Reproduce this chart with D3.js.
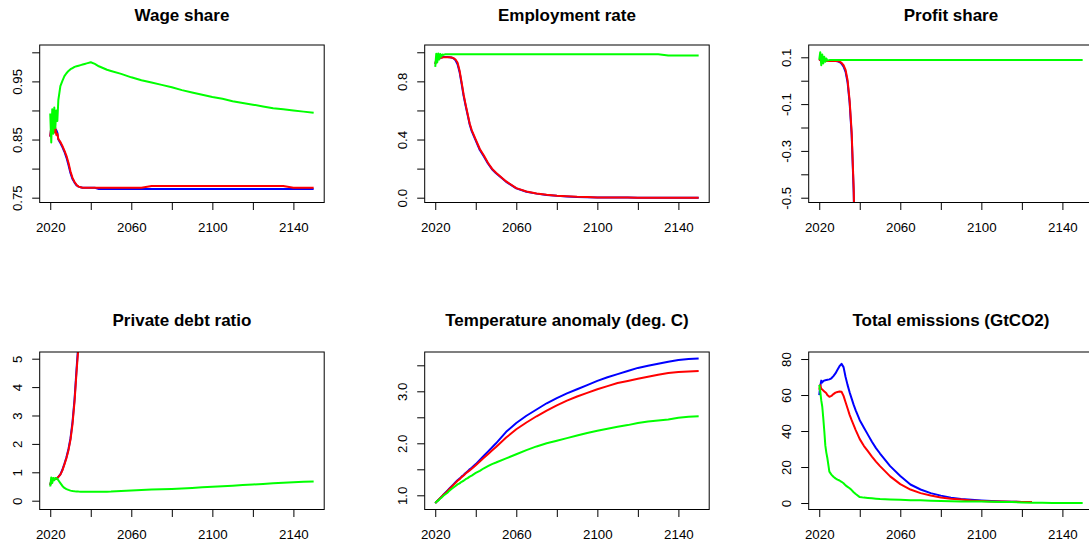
<!DOCTYPE html>
<html>
<head>
<meta charset="utf-8">
<script src="https://cdn.jsdelivr.net/npm/d3@7"></script>
<style>
  body { margin: 0; background: #fff; }
  svg text { font-family: "Liberation Sans", Arial, sans-serif; fill: #000; }
</style>
</head>
<body>
<svg id="chart" width="1089" height="546"></svg>
<script>
// shared time grid (years), denser at the start where the runs oscillate
const years = [2020, 2020.5, 2021, 2021.5, 2022, 2022.5, 2023, 2023.5, 2024,
  2025, 2026, 2027, 2028, 2029, 2030, 2031, 2032, 2033, 2034, 2035, 2036, 2037, 2038,
  2040, 2042, 2044, 2046, 2048, 2050,
  2055, 2060, 2065, 2070, 2075, 2080, 2085, 2090, 2095, 2100, 2105, 2110, 2115, 2120, 2125, 2130, 2135, 2140, 2145, 2150];

const xTicks = [2020, 2040, 2060, 2080, 2100, 2120, 2140];
const xTickLabels = ['2020', '', '2060', '', '2100', '', '2140'];

// Wage share
const wageBlue = [0.855, 0.870, 0.866, 0.874, 0.866, 0.868, 0.866, 0.862, 0.850,
  0.844, 0.837, 0.829, 0.819, 0.806, 0.792, 0.782, 0.776, 0.771, 0.769, 0.768, 0.767, 0.767, 0.767,
  0.767, 0.767, 0.765, 0.765, 0.765, 0.765,
  0.765, 0.765, 0.765, 0.765, 0.765, 0.765, 0.765, 0.765, 0.765, 0.765, 0.765, 0.765, 0.765, 0.765, 0.765, 0.765, 0.765, 0.765, 0.765, 0.765];
const wageRed = [0.855, 0.872, 0.865, 0.876, 0.862, 0.870, 0.858, 0.860, 0.851,
  0.846, 0.839, 0.831, 0.822, 0.810, 0.795, 0.784, 0.777, 0.772, 0.769, 0.768, 0.767, 0.767, 0.767,
  0.767, 0.767, 0.767, 0.767, 0.767, 0.767,
  0.767, 0.767, 0.767, 0.770, 0.770, 0.770, 0.770, 0.770, 0.770, 0.770, 0.770, 0.770, 0.770, 0.770, 0.770, 0.770, 0.770, 0.767, 0.767, 0.767];
const wageGreen = [0.895, 0.845, 0.902, 0.860, 0.905, 0.870, 0.900, 0.882, 0.918,
  0.942, 0.951, 0.959, 0.964, 0.968, 0.971, 0.973, 0.975, 0.976, 0.977, 0.978, 0.979, 0.980, 0.981,
  0.983, 0.980, 0.976, 0.973, 0.970, 0.968,
  0.963, 0.957, 0.952, 0.948, 0.944, 0.940, 0.935, 0.931, 0.927, 0.923, 0.920, 0.916, 0.913, 0.910, 0.907, 0.904, 0.902, 0.900, 0.898, 0.896];
const wageTicks = [0.75, 0.80, 0.85, 0.90, 0.95, 1.00];
const wageTickLabels = ['0.75', '', '0.85', '', '0.95', ''];

// Employment rate
const emplBlue = [0.920, 0.945, 0.952, 0.956, 0.960, 0.962, 0.964, 0.966, 0.967,
  0.967, 0.967, 0.966, 0.964, 0.958, 0.945, 0.918, 0.865, 0.785, 0.700, 0.632, 0.568, 0.503, 0.458,
  0.392, 0.328, 0.284, 0.235, 0.196, 0.168,
  0.109, 0.064, 0.041, 0.028, 0.019, 0.013, 0.009, 0.005, 0.003, 0.002, 0.001, 0.001, 0.001, 0, 0, 0, 0, 0, 0, 0];
const emplRed = [0.920, 0.950, 0.955, 0.958, 0.960, 0.962, 0.963, 0.964, 0.965,
  0.965, 0.965, 0.965, 0.964, 0.960, 0.950, 0.930, 0.875, 0.795, 0.710, 0.640, 0.575, 0.510, 0.465,
  0.400, 0.335, 0.290, 0.240, 0.200, 0.172,
  0.112, 0.066, 0.043, 0.029, 0.020, 0.014, 0.010, 0.006, 0.004, 0.002, 0.001, 0.001, 0.001, 0, 0, 0, 0, 0, 0, 0];
const emplGreen = [0.900, 0.990, 0.930, 0.992, 0.950, 0.988, 0.970, 0.985, 0.982,
  0.986, 0.986, 0.986, 0.986, 0.986, 0.986, 0.986, 0.986, 0.986, 0.986, 0.986, 0.986, 0.986, 0.986,
  0.986, 0.986, 0.986, 0.986, 0.986, 0.986,
  0.986, 0.986, 0.986, 0.986, 0.986, 0.986, 0.986, 0.986, 0.986, 0.986, 0.986, 0.986, 0.986, 0.986, 0.986, 0.986, 0.977, 0.977, 0.977, 0.977];
const emplTicks = [0, 0.2, 0.4, 0.6, 0.8, 1.0];
const emplTickLabels = ['0.0', '', '0.4', '', '0.8', ''];

// Profit share
const profitBlue = [0.086, 0.090, 0.082, 0.087, 0.083, 0.085, 0.084, 0.084, 0.084,
  0.084, 0.084, 0.084, 0.084, 0.083, 0.080, 0.073, 0.060, 0.038, -0.008, -0.095, -0.232, -0.475, -0.920,
  null, null, null, null, null, null,
  null, null, null, null, null, null, null, null, null, null, null, null, null, null, null, null, null, null, null, null];
const profitRed = [0.086, 0.092, 0.080, 0.088, 0.082, 0.086, 0.084, 0.085, 0.084,
  0.084, 0.084, 0.084, 0.084, 0.084, 0.082, 0.076, 0.066, 0.046, 0.002, -0.085, -0.220, -0.460, -0.900,
  null, null, null, null, null, null,
  null, null, null, null, null, null, null, null, null, null, null, null, null, null, null, null, null, null, null, null];
const profitGreen = [0.090, 0.122, 0.066, 0.112, 0.074, 0.102, 0.081, 0.095, 0.086,
  0.088, 0.088, 0.088, 0.088, 0.088, 0.088, 0.088, 0.088, 0.088, 0.088, 0.088, 0.088, 0.088, 0.088,
  0.088, 0.088, 0.088, 0.088, 0.088, 0.088,
  0.088, 0.088, 0.088, 0.088, 0.088, 0.088, 0.088, 0.088, 0.088, 0.088, 0.088, 0.088, 0.088, 0.088, 0.088, 0.088, 0.088, 0.088, 0.088, 0.088];
const profitTicks = [-0.5, -0.4, -0.3, -0.2, -0.1, 0, 0.1];
const profitTickLabels = ['-0.5', '', '-0.3', '', '-0.1', '', '0.1'];

// Private debt ratio
const debtBlue = [0.55, 0.70, 0.75, 0.78, 0.76, 0.77, 0.77, 0.80, 0.84,
  0.93, 1.09, 1.30, 1.53, 1.82, 2.20, 2.78, 3.58, 4.65, 5.65, 7.40, null, null, null,
  null, null, null, null, null, null,
  null, null, null, null, null, null, null, null, null, null, null, null, null, null, null, null, null, null, null, null];
const debtRed = [0.55, 0.70, 0.75, 0.78, 0.76, 0.77, 0.77, 0.80, 0.84,
  0.92, 1.07, 1.28, 1.50, 1.78, 2.15, 2.70, 3.50, 4.55, 5.50, 7.20, null, null, null,
  null, null, null, null, null, null,
  null, null, null, null, null, null, null, null, null, null, null, null, null, null, null, null, null, null, null, null];
const debtGreen = [0.50, 0.82, 0.62, 0.80, 0.72, 0.80, 0.78, 0.77, 0.72,
  0.62, 0.52, 0.45, 0.41, 0.38, 0.355, 0.34, 0.33, 0.325, 0.32, 0.318, 0.316, 0.315, 0.314,
  0.313, 0.313, 0.314, 0.315, 0.317, 0.320,
  0.34, 0.36, 0.375, 0.39, 0.40, 0.415, 0.43, 0.45, 0.47, 0.49, 0.51, 0.53, 0.55, 0.57, 0.59, 0.61, 0.63, 0.65, 0.665, 0.68];
const debtTicks = [0, 1, 2, 3, 4, 5];
const debtTickLabels = ['0', '1', '2', '3', '4', '5'];

// Temperature anomaly
const tempBlue = [0.85, 0.87, 0.89, 0.91, 0.93, 0.95, 0.97, 0.99, 1.01,
  1.05, 1.09, 1.13, 1.17, 1.21, 1.25, 1.29, 1.32, 1.36, 1.39, 1.43, 1.46, 1.50, 1.53,
  1.60, 1.68, 1.76, 1.84, 1.92, 2.00,
  2.22, 2.39, 2.53, 2.65, 2.77, 2.87, 2.96, 3.04, 3.12, 3.20, 3.27, 3.33, 3.39, 3.45, 3.49, 3.53, 3.57, 3.60, 3.62, 3.63];
const tempRed = [0.85, 0.87, 0.89, 0.91, 0.93, 0.95, 0.97, 0.99, 1.01,
  1.04, 1.08, 1.12, 1.16, 1.20, 1.24, 1.28, 1.31, 1.35, 1.38, 1.42, 1.45, 1.48, 1.51,
  1.58, 1.65, 1.72, 1.79, 1.86, 1.93,
  2.11, 2.27, 2.40, 2.52, 2.63, 2.73, 2.82, 2.90, 2.97, 3.04, 3.10, 3.16, 3.20, 3.24, 3.28, 3.32, 3.35, 3.37, 3.38, 3.39];
const tempGreen = [0.85, 0.87, 0.89, 0.90, 0.92, 0.94, 0.95, 0.97, 0.99,
  1.02, 1.05, 1.09, 1.12, 1.15, 1.18, 1.21, 1.23, 1.26, 1.28, 1.31, 1.33, 1.36, 1.38,
  1.43, 1.47, 1.52, 1.56, 1.60, 1.63,
  1.71, 1.79, 1.87, 1.94, 2.00, 2.05, 2.10, 2.15, 2.20, 2.24, 2.28, 2.32, 2.35, 2.39, 2.42, 2.44, 2.46, 2.49, 2.51, 2.52];
const tempTicks = [1.0, 1.5, 2.0, 2.5, 3.0, 3.5];
const tempTickLabels = ['1.0', '', '2.0', '', '3.0', ''];

// Total emissions
const emisBlue = [60.0, 65.0, 68.0, 67.0, 67.8, 68.0, 68.2, 68.3, 68.5,
  68.7, 69.3, 70.5, 72.0, 74.0, 76.0, 77.3, 75.5, 70.0, 65.5, 61.5, 58.0, 54.5, 51.5,
  46.0, 42.0, 38.0, 34.0, 30.5, 27.5,
  20.5, 15.0, 10.3, 7.5, 5.5, 4.1, 3.0, 2.3, 1.8, 1.4, 1.1, 0.9, 0.7, 0.6, 0.5, null, null, null, null, null];
const emisRed = [63.0, 65.5, 63.5, 63.0, 62.5, 62.0, 61.5, 61.0, 60.0,
  59.0, 59.5, 60.5, 61.3, 61.7, 61.9, 61.8, 59.5, 56.0, 52.5, 49.0, 46.0, 43.3, 40.5,
  35.5, 31.8, 28.8, 25.8, 23.0, 20.5,
  14.8, 10.5, 7.5, 5.5, 4.2, 3.1, 2.4, 1.9, 1.4, 1.1, 0.9, 0.8, 0.7, 0.6, 0.5, null, null, null, null, null];
const emisGreen = [65.6, 62.0, 57.0, 53.5, 47.0, 40.0, 32.0, 28.0, 25.0,
  17.4, 15.8, 14.6, 13.7, 13.0, 12.5, 11.8, 11.0, 9.8, 9.0, 8.2, 7.2, 6.0, 5.0,
  3.3, 3.0, 2.8, 2.6, 2.4, 2.2,
  2.0, 1.8, 1.6, 1.5, 1.3, 1.1, 1.0, 0.9, 0.8, 0.8, 0.7, 0.6, 0.5, 0.3, 0.2, 0.1, 0.05, 0, 0, 0];
const emisTicks = [0, 20, 40, 60, 80];
const emisTickLabels = ['0', '20', '40', '60', '80'];

const panels = [
  { title: 'Wage share', series: [wageBlue, wageRed, wageGreen], yDomain: [0.7417, 1.0126], ticks: wageTicks, labels: wageTickLabels },
  { title: 'Employment rate', series: [emplBlue, emplRed, emplGreen], yDomain: [-0.033, 1.050], ticks: emplTicks, labels: emplTickLabels },
  { title: 'Profit share', series: [profitBlue, profitRed, profitGreen], yDomain: [-0.5205, 0.1526], ticks: profitTicks, labels: profitTickLabels },
  { title: 'Private debt ratio', series: [debtBlue, debtRed, debtGreen], yDomain: [-0.31, 5.236], ticks: debtTicks, labels: debtTickLabels },
  { title: 'Temperature anomaly (deg. C)', series: [tempBlue, tempRed, tempGreen], yDomain: [0.727, 3.756], ticks: tempTicks, labels: tempTickLabels },
  { title: 'Total emissions (GtCO2)', series: [emisBlue, emisRed, emisGreen], yDomain: [-3.6, 83.9], ticks: emisTicks, labels: emisTickLabels }
];

const colours = ['#0000ff', '#ff0000', '#00ff00'];
const colLeft = [39.7, 424.7, 808.7];
const rowTop = [45, 352];
const titleBase = [20.8, 325.7];
const boxW = 284.5, boxH = 157.5;
const xDomain = [2014.8, 2155.2];

const svg = d3.select('#chart');

panels.forEach((p, i) => {
  const col = i % 3, row = Math.floor(i / 3);
  const g = svg.append('g')
    .attr('transform', 'translate(' + colLeft[col] + ',' + rowTop[row] + ')');

  const x = d3.scaleLinear().domain(xDomain).range([0, boxW]);
  const y = d3.scaleLinear().domain(p.yDomain).range([boxH, 0]);

  g.append('clipPath').attr('id', 'clip' + i)
    .append('rect').attr('width', boxW).attr('height', boxH);

  const line = d3.line()
    .defined(d => d[1] != null)
    .x(d => x(d[0]))
    .y(d => y(d[1]));

  const plot = g.append('g').attr('clip-path', 'url(#clip' + i + ')');
  p.series.forEach((vals, k) => {
    plot.append('path')
      .datum(years.map((yr, j) => [yr, vals[j]]))
      .attr('d', line)
      .attr('fill', 'none')
      .attr('stroke', colours[k])
      .attr('stroke-width', 2)
      .attr('stroke-linejoin', 'round');
  });

  // x axis
  const xa = g.append('g')
    .attr('transform', 'translate(0,' + boxH + ')')
    .call(d3.axisBottom(x).tickValues(xTicks).tickSize(7.5).tickPadding(13)
      .tickFormat((d, j) => xTickLabels[j]));
  xa.select('.domain').remove();
  xa.attr('font-size', null).attr('font-family', null);
  xa.selectAll('text').style('font-size', '13.3px');

  // y axis, labels parallel to the axis as in base R
  const ya = g.append('g')
    .call(d3.axisLeft(y).tickValues(p.ticks).tickSize(7.5)
      .tickFormat((d, j) => p.labels[j]));
  ya.select('.domain').remove();
  ya.attr('font-size', null).attr('font-family', null);
  ya.selectAll('text')
    .attr('x', 0).attr('dy', 0)
    .attr('text-anchor', 'middle')
    .attr('transform', 'translate(-18,0) rotate(-90)')
    .style('font-size', '13.3px');

  g.append('rect')
    .attr('width', boxW).attr('height', boxH)
    .attr('fill', 'none').attr('stroke', '#000').attr('stroke-width', 1);

  g.append('text')
    .attr('x', boxW / 2)
    .attr('y', titleBase[row] - rowTop[row])
    .attr('text-anchor', 'middle')
    .style('font-size', '17px')
    .style('font-weight', 'bold')
    .text(p.title);
});
</script>
</body>
</html>
